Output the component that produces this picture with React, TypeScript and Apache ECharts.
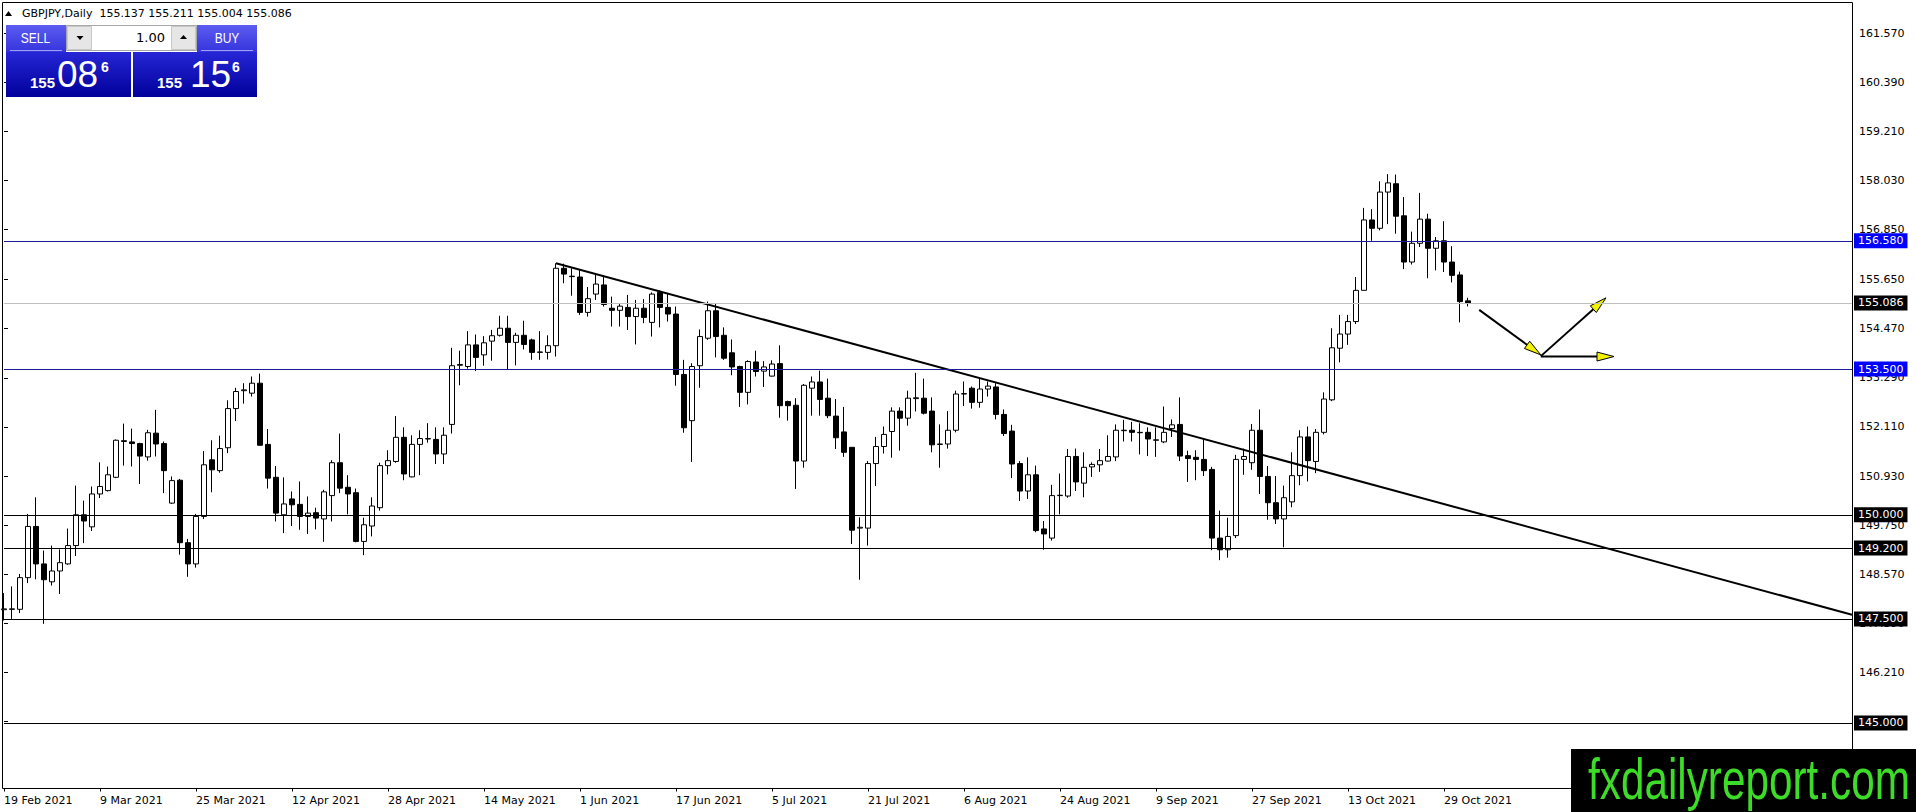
import React, { useEffect, useRef } from "react";
import * as echarts from "echarts";

const FONT = "DejaVu Sans, Tahoma, sans-serif";
const ARIAL = "Liberation Sans, Arial, sans-serif";

// Daily candles, each row: [open, high, low, close]
const feb2021 = [
  [147.72, 148.12, 147.46, 147.74],
  [147.74, 148.28, 147.5, 147.73],
  [147.73, 148.58, 147.64, 148.49],
  [148.49, 150.02, 148.36, 149.72],
  [149.72, 150.42, 148.45, 148.82],
  [148.82, 149.14, 147.38, 148.44],
];
const mar2021 = [
  [148.39, 149.26, 148.3, 148.65],
  [148.65, 149.17, 148.1, 148.85],
  [148.82, 149.67, 148.8, 149.26],
  [149.26, 150.7, 149.01, 150.0],
  [150.0, 150.34, 149.32, 149.85],
  [149.71, 150.68, 149.61, 150.5],
  [150.5, 151.26, 150.4, 150.68],
  [150.58, 151.16, 150.56, 150.96],
  [150.9, 151.81, 150.88, 151.79],
  [151.76, 152.19, 151.18, 151.78],
  [151.75, 152.07, 151.16, 151.71],
  [151.71, 151.73, 150.74, 151.41],
  [151.39, 152.04, 151.3, 151.97],
  [151.96, 152.52, 151.4, 151.7],
  [151.71, 151.76, 150.52, 151.06],
  [150.28, 150.92, 150.26, 150.82],
  [150.83, 150.86, 149.04, 149.33],
  [149.33, 149.42, 148.51, 148.82],
  [148.82, 150.02, 148.73, 149.96],
  [149.96, 151.53, 149.9, 151.2],
  [151.32, 151.79, 150.54, 151.08],
  [151.06, 151.9, 151.01, 151.59],
  [151.61, 152.75, 151.48, 152.55],
];
const apr2021 = [
  [152.55, 153.05, 152.25, 152.96],
  [152.98, 153.16, 152.67, 153.0],
  [152.92, 153.32, 152.84, 153.16],
  [153.16, 153.39, 151.66, 151.67],
  [151.69, 152.06, 150.63, 150.88],
  [150.9, 151.17, 149.84, 150.04],
  [150.0, 150.9, 149.56, 150.26],
  [150.38, 150.56, 149.73, 150.24],
  [150.25, 150.8, 149.64, 149.96],
  [149.96, 150.44, 149.54, 150.04],
  [150.05, 150.17, 149.65, 149.92],
  [149.9, 150.6, 149.35, 150.55],
  [150.46, 151.31, 149.84, 151.25],
  [151.25, 151.95, 150.52, 150.64],
  [150.66, 150.95, 150.01, 150.5],
  [150.53, 150.63, 149.34, 149.36],
  [149.36, 149.93, 149.03, 149.76],
  [149.73, 150.42, 149.48, 150.21],
  [150.17, 151.25, 150.1, 151.18],
  [151.18, 151.55, 150.97, 151.3],
  [151.28, 152.37, 151.25, 151.86],
  [151.86, 152.1, 150.83, 150.98],
];
const may2021 = [
  [150.91, 151.91, 150.9, 151.69],
  [151.69, 152.03, 150.95, 151.83],
  [151.82, 152.2, 151.73, 151.83],
  [151.81, 152.1, 151.22, 151.46],
  [151.46, 152.1, 151.22, 151.91],
  [152.17, 154.01, 151.95, 153.58],
  [153.59, 153.94, 153.11, 153.61],
  [153.56, 154.41, 153.51, 154.08],
  [154.08, 154.33, 153.45, 153.78],
  [153.84, 154.29, 153.58, 154.13],
  [154.17, 154.44, 153.7, 154.3],
  [154.31, 154.78, 154.28, 154.48],
  [154.48, 154.78, 153.5, 154.14],
  [154.14, 154.37, 153.59, 154.31],
  [154.31, 154.66, 153.97, 154.09],
  [154.2, 154.23, 153.72, 153.9],
  [153.9, 154.41, 153.72, 153.91],
  [153.9, 154.31, 153.73, 154.06],
  [154.06, 156.04, 153.8, 155.92],
  [155.92, 156.03, 155.56, 155.78],
  [155.73, 155.92, 155.26, 155.72],
];
const jun2021 = [
  [155.71, 155.87, 154.8, 154.86],
  [154.86, 155.47, 154.76, 155.19],
  [155.3, 155.76, 155.16, 155.54],
  [155.52, 155.72, 155.0, 155.05],
  [154.96, 155.24, 154.52, 154.91],
  [154.91, 155.06, 154.52, 155.01],
  [154.98, 155.28, 154.44, 154.76],
  [154.76, 155.16, 154.09, 154.96],
  [154.96, 155.18, 154.6, 154.74],
  [154.62, 155.34, 154.28, 155.3],
  [155.34, 155.39, 154.5, 154.98],
  [154.98, 155.3, 154.64, 154.82],
  [154.82, 155.0, 153.1, 153.37],
  [153.37, 153.72, 151.97, 152.09],
  [152.26, 153.64, 151.27, 153.56],
  [153.58, 154.45, 153.05, 154.28],
  [154.24, 155.12, 154.2, 154.9],
  [154.9, 155.08, 153.78, 154.28],
  [154.31, 154.5, 153.72, 153.76],
  [153.89, 154.21, 153.35, 153.55],
  [153.56, 153.58, 152.59, 152.94],
  [152.94, 153.71, 152.65, 153.68],
];
const jul2021 = [
  [153.67, 153.94, 153.32, 153.44],
  [153.45, 153.69, 153.07, 153.55],
  [153.33, 153.71, 153.32, 153.62],
  [153.63, 154.07, 152.33, 152.62],
  [152.72, 152.74, 152.26, 152.62],
  [152.63, 152.8, 150.62, 151.29],
  [151.29, 153.14, 151.13, 153.11],
  [153.04, 153.32, 152.38, 153.19],
  [153.19, 153.46, 152.38, 152.77],
  [152.8, 153.27, 152.32, 152.38],
  [152.37, 152.78, 151.58, 151.85],
  [151.99, 152.59, 151.39, 151.5],
  [151.62, 151.62, 149.3, 149.63],
  [149.68, 149.94, 148.44, 149.7],
  [149.68, 151.29, 149.26, 151.23],
  [151.23, 151.87, 150.69, 151.64],
  [151.64, 152.12, 151.47, 151.93],
  [152.0, 152.58, 151.37, 152.49],
  [152.49, 152.58, 151.54, 152.32],
  [152.32, 152.98, 152.14, 152.8],
  [152.79, 153.41, 152.48, 152.81],
  [152.8, 153.27, 152.41, 152.44],
];
const aug2021 = [
  [152.49, 152.82, 151.5, 151.68],
  [151.69, 152.17, 151.13, 151.7],
  [151.7, 152.49, 151.59, 152.03],
  [152.03, 152.98, 151.98, 152.9],
  [152.9, 153.2, 152.61, 152.91],
  [153.04, 153.08, 152.55, 152.7],
  [152.7, 153.28, 152.57, 153.02],
  [153.02, 153.2, 152.84, 153.09],
  [153.07, 153.16, 152.29, 152.41],
  [152.41, 152.53, 151.89, 151.95],
  [152.01, 152.16, 150.88, 151.22],
  [151.23, 151.29, 150.33, 150.57],
  [150.57, 151.38, 150.38, 150.96],
  [150.96, 151.18, 149.58, 149.62],
  [149.66, 149.85, 149.16, 149.54],
  [149.44, 150.72, 149.38, 150.46],
  [150.46, 150.99, 150.01, 150.47],
  [150.45, 151.58, 150.41, 151.4],
  [151.4, 151.59, 150.57, 150.79],
  [150.76, 151.5, 150.42, 151.14],
  [151.15, 151.26, 150.91, 151.21],
  [151.2, 151.58, 151.03, 151.3],
];
const sep2021 = [
  [151.29, 151.91, 151.28, 151.4],
  [151.39, 152.17, 151.29, 152.03],
  [152.02, 152.28, 151.76, 152.03],
  [152.03, 152.23, 151.76, 151.98],
  [151.97, 152.2, 151.45, 151.98],
  [151.98, 152.1, 151.41, 151.82],
  [151.79, 152.1, 151.39, 151.8],
  [151.75, 152.6, 151.72, 151.98],
  [152.07, 152.29, 151.87, 152.16],
  [152.17, 152.82, 151.29, 151.41],
  [151.42, 151.54, 150.79, 151.35],
  [151.38, 151.55, 150.83, 151.33],
  [151.33, 151.83, 150.93, 151.06],
  [151.09, 151.15, 149.15, 149.44],
  [149.44, 150.1, 148.91, 149.16],
  [149.16, 149.93, 148.97, 149.48],
  [149.5, 151.44, 149.44, 151.33],
  [151.33, 151.59, 150.96, 151.4],
  [151.25, 152.18, 151.08, 152.03],
  [152.03, 152.53, 150.5, 150.92],
  [150.92, 151.17, 149.88, 150.29],
  [150.29, 150.93, 149.78, 149.9],
];
const oct2021 = [
  [149.9, 150.7, 149.22, 150.41],
  [150.31, 151.5, 150.18, 150.94],
  [150.94, 152.03, 150.71, 151.87],
  [151.87, 152.12, 150.8, 151.3],
  [151.28, 152.06, 151.0, 151.98],
  [151.98, 152.94, 151.93, 152.78],
  [152.76, 154.48, 152.73, 154.01],
  [154.0, 154.8, 153.66, 154.34],
  [154.34, 154.8, 154.08, 154.64],
  [154.64, 155.71, 154.58, 155.39],
  [155.39, 157.37, 155.39, 157.08],
  [157.08, 157.34, 156.58, 156.88],
  [156.88, 158.01, 156.83, 157.75],
  [157.75, 158.18, 156.98, 157.97],
  [157.95, 158.17, 156.75, 157.17],
  [157.18, 157.63, 155.9, 156.07],
  [156.07, 156.8, 156.01, 156.52],
  [156.52, 157.73, 156.43, 157.1],
  [157.1, 157.23, 155.68, 156.4],
  [156.4, 156.67, 155.87, 156.58],
  [156.58, 157.05, 155.83, 156.07],
];
const nov2021 = [
  [156.07, 156.45, 155.58, 155.75],
  [155.76, 155.84, 154.62, 155.12],
  [155.137, 155.211, 155.004, 155.086],
];

// x-axis labels, one every 12 bars
const dateLabels = [
  "19 Feb 2021", "9 Mar 2021", "25 Mar 2021", "12 Apr 2021", "28 Apr 2021",
  "14 May 2021", "1 Jun 2021", "17 Jun 2021", "5 Jul 2021", "21 Jul 2021",
  "6 Aug 2021", "24 Aug 2021", "9 Sep 2021", "27 Sep 2021", "13 Oct 2021",
  "29 Oct 2021",
];
const LABEL_EVERY = 12;
const TOTAL_SLOTS = 232;

// price scale tick labels
const priceTicks = [
  161.57, 160.39, 159.21, 158.03, 156.85, 155.65, 154.47, 153.29, 152.11,
  150.93, 149.75, 148.57, 147.39, 146.21, 145.03,
];
const priceMin = 143.4264;
const priceMax = 162.3025;

// horizontal levels
const blueLevels = [156.58, 153.5];
const blackLevels = [150.0, 149.2, 147.5, 145.0];
const lastPrice = 155.086;
const quote = ["155.137", "155.211", "155.004", "155.086"];

// trend line [barIndex, price]
const trendLine = [
  [69, 156.04],
  [231, 147.6],
];
// projection arrows [x1, y1, x2, y2] in [barIndex, price]
const arrows = [
  [184.4, 154.92, 192.1, 153.84],
  [192.1, 153.81, 200.25, 155.21],
  [192.1, 153.8, 201.25, 153.8],
];

const allBars = [
  ...feb2021, ...mar2021, ...apr2021, ...may2021, ...jun2021,
  ...jul2021, ...aug2021, ...sep2021, ...oct2021, ...nov2021,
];

export default function App() {
  const ref = useRef<HTMLDivElement>(null);

  useEffect(() => {
    if (!ref.current) return;
    const chart = echarts.init(ref.current, undefined, { renderer: "svg" });

    const categories = Array.from({ length: TOTAL_SLOTS }, (_, i) => "b" + i);
    const candleData = allBars.map((r) => [r[0], r[3], r[2], r[1]]);
    const lastIdx = allBars.length - 1;

    const levelLabel = (bg: string, v: number) => ({
      show: true,
      position: "end" as const,
      distance: 2,
      formatter: () => v.toFixed(3),
      color: "#fff",
      backgroundColor: bg,
      padding: [2, 4, 1, 4],
      fontFamily: FONT,
      fontSize: 11,
      lineHeight: 12,
    });

    const markData: any[] = [];
    blueLevels.forEach((v) =>
      markData.push({
        yAxis: v,
        lineStyle: { color: "#1c1c98", width: 1, type: "solid" },
        label: levelLabel("#0000ff", v),
      })
    );
    markData.push({
      yAxis: lastPrice,
      lineStyle: { color: "#c0c0c0", width: 1, type: "solid" },
      label: levelLabel("#000", lastPrice),
    });
    blackLevels.forEach((v) =>
      markData.push({
        yAxis: v,
        lineStyle: { color: "#000", width: 1, type: "solid" },
        label: levelLabel("#000", v),
      })
    );

    const grad = (c1: string, c2: string) =>
      new echarts.graphic.LinearGradient(0, 0, 0, 1, [
        { offset: 0, color: c1 },
        { offset: 1, color: c2 },
      ]);

    const graphics: any[] = [
      {
        type: "rect",
        z: 1,
        shape: { x: 2.5, y: 2.5, width: 1850, height: 786 },
        style: { fill: "none", stroke: "#000", lineWidth: 1 },
        silent: true,
      },
      // header
      {
        type: "polygon",
        z: 50,
        shape: { points: [[5, 16], [12, 16], [8.5, 11]] },
        style: { fill: "#000" },
      },
      {
        type: "text",
        z: 50,
        x: 22,
        y: 13,
        style: {
          text: "GBPJPY,Daily  " + quote.join(" "),
          font: "11px " + FONT,
          fill: "#000",
          textAlign: "left",
          textVerticalAlign: "middle",
        },
      },
      // SELL button
      {
        type: "rect",
        z: 50,
        shape: { x: 6, y: 25, width: 60, height: 27 },
        style: { fill: grad("#5c5cf2", "#3434dc") },
      },
      {
        type: "line",
        z: 51,
        shape: { x1: 10, y1: 50.5, x2: 62, y2: 50.5 },
        style: { stroke: "#a0a0f0", lineWidth: 1 },
      },
      {
        type: "text",
        z: 52,
        x: 35.5,
        y: 38,
        scaleX: 0.8,
        style: {
          text: "SELL",
          font: "15px " + ARIAL,
          fill: "#fff",
          textAlign: "center",
          textVerticalAlign: "middle",
        },
      },
      // lot size control
      {
        type: "rect",
        z: 50,
        shape: { x: 66.5, y: 25.5, width: 130, height: 25 },
        style: { fill: "#fff", stroke: "#a8a8a8", lineWidth: 1 },
      },
      {
        type: "rect",
        z: 51,
        shape: { x: 67.5, y: 26.5, width: 24, height: 23 },
        style: { fill: "#e6e6e6", stroke: "#c8c8c8", lineWidth: 1 },
      },
      {
        type: "rect",
        z: 51,
        shape: { x: 171.5, y: 26.5, width: 24, height: 23 },
        style: { fill: "#e6e6e6", stroke: "#c8c8c8", lineWidth: 1 },
      },
      {
        type: "polygon",
        z: 52,
        shape: { points: [[76.5, 36], [83.5, 36], [80, 40]] },
        style: { fill: "#000" },
      },
      {
        type: "polygon",
        z: 52,
        shape: { points: [[180, 39], [187, 39], [183.5, 35]] },
        style: { fill: "#000" },
      },
      {
        type: "text",
        z: 52,
        x: 165,
        y: 37,
        style: {
          text: "1.00",
          font: "13px " + FONT,
          fill: "#000",
          textAlign: "right",
          textVerticalAlign: "middle",
        },
      },
      // BUY button
      {
        type: "rect",
        z: 50,
        shape: { x: 197, y: 25, width: 60, height: 27 },
        style: { fill: grad("#5c5cf2", "#3434dc") },
      },
      {
        type: "line",
        z: 51,
        shape: { x1: 201, y1: 50.5, x2: 253, y2: 50.5 },
        style: { stroke: "#a0a0f0", lineWidth: 1 },
      },
      {
        type: "text",
        z: 52,
        x: 227,
        y: 38,
        scaleX: 0.8,
        style: {
          text: "BUY",
          font: "15px " + ARIAL,
          fill: "#fff",
          textAlign: "center",
          textVerticalAlign: "middle",
        },
      },
      // price boxes
      {
        type: "rect",
        z: 50,
        shape: { x: 6, y: 52, width: 125, height: 45 },
        style: { fill: grad("#2626d6", "#00009a") },
      },
      {
        type: "rect",
        z: 50,
        shape: { x: 133, y: 52, width: 124, height: 45 },
        style: { fill: grad("#2626d6", "#00009a") },
      },
      {
        type: "text",
        z: 52,
        x: 30,
        y: 82,
        style: { text: "155", font: "bold 15px " + ARIAL, fill: "#fff", textAlign: "left", textVerticalAlign: "middle" },
      },
      {
        type: "text",
        z: 52,
        x: 57,
        y: 74,
        style: { text: "08", font: "37px " + ARIAL, fill: "#fff", textAlign: "left", textVerticalAlign: "middle" },
      },
      {
        type: "text",
        z: 52,
        x: 101,
        y: 67,
        style: { text: "6", font: "bold 14px " + ARIAL, fill: "#fff", textAlign: "left", textVerticalAlign: "middle" },
      },
      {
        type: "text",
        z: 52,
        x: 157,
        y: 82,
        style: { text: "155", font: "bold 15px " + ARIAL, fill: "#fff", textAlign: "left", textVerticalAlign: "middle" },
      },
      {
        type: "text",
        z: 52,
        x: 190,
        y: 74,
        style: { text: "15", font: "37px " + ARIAL, fill: "#fff", textAlign: "left", textVerticalAlign: "middle" },
      },
      {
        type: "text",
        z: 52,
        x: 232,
        y: 67,
        style: { text: "6", font: "bold 14px " + ARIAL, fill: "#fff", textAlign: "left", textVerticalAlign: "middle" },
      },
      // watermark
      {
        type: "rect",
        z: 100,
        shape: { x: 1571, y: 749, width: 345, height: 63 },
        style: { fill: "#000" },
      },
      {
        type: "text",
        z: 101,
        x: 1588,
        y: 780,
        scaleX: 0.742,
        style: {
          text: "fxdailyreport.com",
          font: "57px " + ARIAL,
          fill: "#3cdc28",
          textAlign: "left",
          textVerticalAlign: "middle",
        },
      },
    ];

    const option: any = {
      animation: false,
      backgroundColor: "#fff",
      grid: {
        left: 4,
        right: 64,
        top: 2.5,
        bottom: 23.5,
        containLabel: false,
        outerBoundsMode: "none",
        show: false,
      },
      xAxis: [
        {
          type: "category",
          data: categories,
          boundaryGap: false,
          axisLine: { show: false },
          axisTick: {
            show: true,
            length: 3,
            interval: (i: number) => i % LABEL_EVERY === 0 && i <= lastIdx,
            lineStyle: { color: "#000", width: 1 },
          },
          axisLabel: {
            show: true,
            interval: (i: number) => i % LABEL_EVERY === 0 && i <= lastIdx,
            formatter: (_v: string, i: number) =>
              i % LABEL_EVERY === 0 && i <= lastIdx ? dateLabels[i / LABEL_EVERY] || "" : "",
            align: "left",
            margin: 6,
            color: "#000",
            fontFamily: FONT,
            fontSize: 11,
          },
          splitLine: { show: false },
        },
        {
          type: "value",
          min: 0,
          max: TOTAL_SLOTS - 1,
          show: false,
        },
      ],
      yAxis: {
        type: "value",
        position: "right",
        min: priceMin,
        max: priceMax,
        scale: true,
        axisLine: { show: false },
        axisTick: {
          show: true,
          length: 4,
          customValues: priceTicks,
          lineStyle: { color: "#000", width: 1 },
        },
        axisLabel: {
          show: true,
          customValues: priceTicks,
          formatter: (v: number) => v.toFixed(3),
          margin: 7,
          color: "#000",
          fontFamily: FONT,
          fontSize: 11,
        },
        splitLine: { show: false },
      },
      series: [
        {
          type: "candlestick",
          xAxisIndex: 0,
          yAxisIndex: 0,
          data: candleData,
          barWidth: 5,
          clip: true,
          silent: true,
          itemStyle: {
            color: "#fff",
            color0: "#000",
            borderColor: "#000",
            borderColor0: "#000",
            borderColorDoji: "#000",
            borderWidth: 1,
          },
          markLine: {
            silent: true,
            symbol: ["none", "none"],
            precision: 3,
            animation: false,
            emphasis: { disabled: true },
            data: markData,
          },
        },
        {
          type: "line",
          xAxisIndex: 1,
          yAxisIndex: 0,
          data: trendLine,
          symbol: "none",
          silent: true,
          lineStyle: { color: "#000", width: 2 },
          z: 3,
        },
        {
          type: "custom",
          xAxisIndex: 1,
          yAxisIndex: 0,
          data: arrows,
          encode: { x: [0, 2], y: [1, 3] },
          silent: true,
          z: 4,
          renderItem: (_p: any, api: any) => {
            const a = api.coord([api.value(0), api.value(1)]);
            const b = api.coord([api.value(2), api.value(3)]);
            const dx = b[0] - a[0];
            const dy = b[1] - a[1];
            const len = Math.hypot(dx, dy) || 1;
            const ux = dx / len;
            const uy = dy / len;
            const L = 17;
            const W = 4.5;
            const bx = b[0] - ux * L;
            const by = b[1] - uy * L;
            return {
              type: "group",
              children: [
                {
                  type: "line",
                  shape: { x1: a[0], y1: a[1], x2: bx, y2: by },
                  style: { stroke: "#000", lineWidth: 2 },
                },
                {
                  type: "polygon",
                  shape: {
                    points: [
                      [b[0], b[1]],
                      [bx - uy * W, by + ux * W],
                      [bx + uy * W, by - ux * W],
                    ],
                  },
                  style: { fill: "#f2f200", stroke: "#000", lineWidth: 1 },
                },
              ],
            };
          },
        },
      ],
      graphic: graphics,
    };

    chart.setOption(option);
    return () => chart.dispose();
  }, []);

  return (
    <div
      ref={ref}
      style={{
        position: "absolute",
        left: 0,
        top: 0,
        width: 1916,
        height: 812,
        background: "#fff",
      }}
    />
  );
}
